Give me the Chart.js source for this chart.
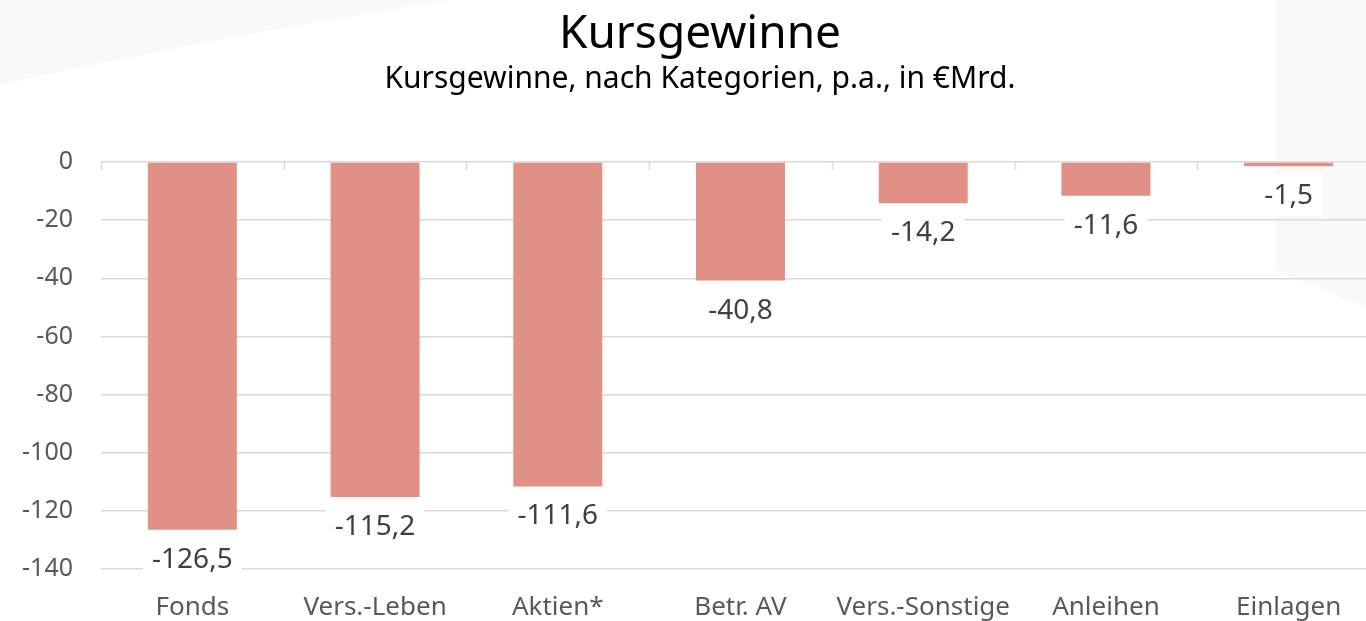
<!DOCTYPE html>
<html lang="de">
<head>
<meta charset="utf-8">
<title>Kursgewinne</title>
<script src="https://cdn.jsdelivr.net/npm/chart.js@4/dist/chart.umd.min.js"></script>
<style>
  html, body { margin: 0; padding: 0; background: #fff; overflow: hidden; }
  /* Original ist rechts angeschnitten: Diagrammfläche reicht etwas über den Bildrand */
  #wrap { width: 1380px; height: 621px; position: relative; }
  #wrap canvas { position: absolute; left: 0; top: 0; }
  .kopf { position: absolute; left: 20px; right: 0; text-align: center; color: #000;
          font-family: "Noto Sans", "Open Sans", sans-serif; font-weight: normal; margin: 0; z-index: 2; }
  #titel { top: 0; font-size: 46px; line-height: 60px; }
  #untertitel { top: 59px; font-size: 30px; line-height: 36px; }
</style>
</head>
<body>
<div id="wrap">
  <canvas id="chart"></canvas>
  <h1 class="kopf" id="titel">Kursgewinne</h1>
  <p class="kopf" id="untertitel">Kursgewinne, nach Kategorien, p.a., in €Mrd.</p>
</div>
<script>
// Daten
const kategorien = ['Fonds', 'Vers.-Leben', 'Aktien*', 'Betr. AV', 'Vers.-Sonstige', 'Anleihen', 'Einlagen'];
const kursgewinne = [-126.5, -115.2, -111.6, -40.8, -14.2, -11.6, -1.5];
const yTicks = [0, -20, -40, -60, -80, -100, -120, -140];

const FONT = '"Noto Sans", "Open Sans", sans-serif';
const fmt = v => v.toFixed(1).replace('.', ',');

// dezente Hintergrundflächen wie im Original
const hintergrund = {
  id: 'hintergrund',
  beforeDraw(chart) {
    const c = chart.ctx;
    c.save();
    c.fillStyle = '#f9f9f9';
    c.beginPath();
    c.moveTo(0, 0); c.lineTo(450, 0); c.quadraticCurveTo(200, 40, 0, 85); c.closePath();
    c.fill();
    c.beginPath();
    c.moveTo(1276, 0); c.lineTo(1380, 0); c.lineTo(1380, 313); c.lineTo(1276, 270); c.closePath();
    c.fill();
    c.restore();
  }
};

// kleine Teilstriche an den Kategoriegrenzen auf der Nulllinie
const nullTicks = {
  id: 'nullTicks',
  afterDatasetsDraw(chart) {
    const x = chart.scales.x, y = chart.scales.y, c = chart.ctx;
    const y0 = y.getPixelForValue(0);
    const step = x.getPixelForValue(1) - x.getPixelForValue(0);
    c.save();
    c.strokeStyle = '#d9d9d9';
    c.lineWidth = 1.5;
    for (let i = 0; i < kategorien.length; i++) {
      const px = Math.round(x.getPixelForValue(i) - step / 2) + 0.5;
      c.beginPath(); c.moveTo(px, y0); c.lineTo(px, y0 + 8); c.stroke();
    }
    c.restore();
  }
};

// Datenbeschriftung unterhalb der Balken mit weißem Kasten
const werte = {
  id: 'werte',
  afterDatasetsDraw(chart) {
    const c = chart.ctx;
    const meta = chart.getDatasetMeta(0);
    c.save();
    c.font = '28px ' + FONT;
    c.textAlign = 'center';
    c.textBaseline = 'middle';
    meta.data.forEach((bar, i) => {
      const txt = fmt(kursgewinne[i]);
      const w = c.measureText(txt).width + 18;
      const h = 42;
      const top = bar.y + 8;
      c.fillStyle = '#ffffff';
      c.fillRect(bar.x - w / 2, top, w, h);
      c.fillStyle = '#404040';
      c.fillText(txt, bar.x, top + h / 2 + 1);
    });
    c.restore();
  }
};

new Chart(document.getElementById('chart'), {
  type: 'bar',
  data: {
    labels: kategorien,
    datasets: [{
      label: 'Kursgewinne',
      data: kursgewinne,
      backgroundColor: '#e19086',
      borderWidth: 0,
      categoryPercentage: 1,
      barPercentage: 0.487
    }]
  },
  options: {
    responsive: true,
    maintainAspectRatio: false,
    animation: false,
    layout: { padding: { left: 0, right: 0, top: 162, bottom: 0 } },
    plugins: {
      legend: { display: false },
      tooltip: { enabled: false }
    },
    scales: {
      x: {
        afterFit(scale) { scale.height = 52; },
        grid: { display: false },
        border: { display: false },
        ticks: { color: '#595959', font: { family: FONT, size: 26 }, padding: 15 }
      },
      y: {
        min: -140,
        max: 0,
        afterFit(scale) { scale.width = 101; },
        afterBuildTicks(scale) { scale.ticks = yTicks.map(v => ({ value: v })); },
        grid: { color: '#d9d9d9', lineWidth: 1.5, drawTicks: false },
        border: { display: false },
        ticks: { color: '#595959', font: { family: FONT, size: 25 }, padding: 28 }
      }
    }
  },
  plugins: [hintergrund, nullTicks, werte]
});
</script>
</body>
</html>
